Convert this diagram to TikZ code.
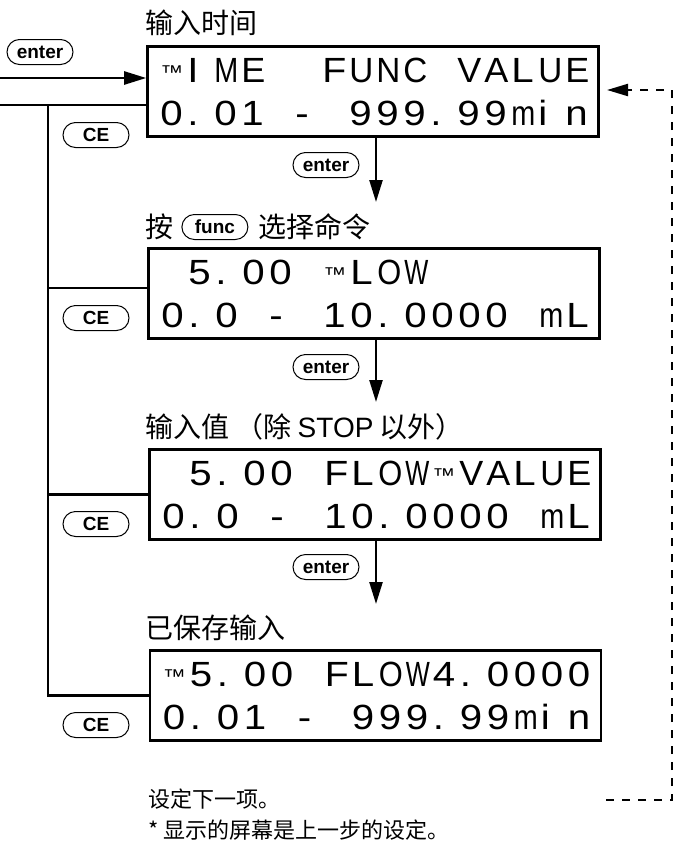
\documentclass[tikz,border=0pt]{standalone}
\usepackage{fontspec}
\usepackage{graphicx}
\setmainfont{Liberation Sans}
\newfontfamily\cjk{Noto Sans CJK SC}
\newfontfamily\lcdfont[FakeStretch=1.15]{Liberation Sans}
\usetikzlibrary{arrows.meta, positioning}

% one LCD cell per character, "_" is an empty cell
\newcommand\lcdcell[1]{\sbox0{#1}\ifdim\wd0>24pt\sbox0{\resizebox{24pt}{\ht0}{#1}}\fi\makebox[27pt][l]{\hspace{2pt}\usebox0}}
\newcommand\cur{\raisebox{3pt}{\fontsize{20}{20}\selectfont ™}}
\def\lcd#1{\lcdnext#1\relax}
\def\lcdnext#1{\ifx#1\relax\else\ifx#1_\lcdcell{}\else\lcdcell{#1}\fi\expandafter\lcdnext\fi}

\begin{document}
\begin{tikzpicture}[x=1pt, y=-1pt,
    screen/.style={draw, line width=2.6pt, minimum width=451pt, minimum height=90pt, inner sep=0pt},
    lcdtext/.style={anchor=base west, inner sep=0pt, font=\lcdfont\fontsize{35}{35}\selectfont},
    btn/.style={draw, line width=1pt, rounded corners=12.5pt, minimum width=66pt, minimum height=25pt, inner sep=0pt, font=\fontsize{19}{19}\selectfont\bfseries},
    title/.style={anchor=west, inner sep=0pt, font=\cjk\fontsize{28}{28}\selectfont},
    note/.style={anchor=west, inner sep=0pt, font=\cjk\fontsize{22}{22}\selectfont},
    wire/.style={line width=2.4pt},
    arr/.style={line width=2.4pt, -{Triangle[length=22pt, width=13pt]}},
    dasharr/.style={line width=2.2pt, dash pattern=on 8pt off 8pt, -{Triangle[length=21pt, width=12pt]}}]
    \useasboundingbox (0,0) rectangle (674,841);
    % screens
    \node[screen] (s1) at (373,91.5) {};
    \node[screen] (s2) at (374,293.5) {};
    \node[screen] (s3) at (375,494.5) {};
    \node[screen] (s4) at (375.5,695.5) {};
    \node[lcdtext] (s1a) at ([xshift=12pt,yshift=-37pt]s1.north west) {\lcd{\cur IME__FUNC_VALUE}};
    \node[lcdtext] (s1b) at ([xshift=12pt,yshift=-80pt]s1.north west) {\lcd{0.01_-_999.99min}};
    \node[lcdtext] (s2a) at ([xshift=12pt,yshift=-37pt]s2.north west) {\lcd{_5.00_\cur LOW}};
    \node[lcdtext] (s2b) at ([xshift=12pt,yshift=-80pt]s2.north west) {\lcd{0.0_-_10.0000_mL}};
    \node[lcdtext] (s3a) at ([xshift=12pt,yshift=-37pt]s3.north west) {\lcd{_5.00_FLOW\cur VALUE}};
    \node[lcdtext] (s3b) at ([xshift=12pt,yshift=-80pt]s3.north west) {\lcd{0.0_-_10.0000_mL}};
    \node[lcdtext] (s4a) at ([xshift=12pt,yshift=-37pt]s4.north west) {\lcd{\cur 5.00_FLOW4.0000}};
    \node[lcdtext] (s4b) at ([xshift=12pt,yshift=-80pt]s4.north west) {\lcd{0.01_-_999.99min}};
    % titles
    \node[title] (t1) at (145,23) {输入时间};
    \node[title] (t2) at (145,227) {按};
    \node[btn, right=8pt of t2] (kf) {func};
    \node[title, right=10pt of kf] (t2b) {选择命令};
    \node[title] (t3) at (145,427) {输入值 （除 {\rmfamily STOP} 以外）};
    \node[title] (t4) at (145,628) {已保存输入};
    \node[note] (n1) at (148,799) {设定下一项。};
    \node[note] (n2) at (148,830) {* 显示的屏幕是上一步的设定。};
    % keys
    \node[btn] (k0) at (40,52) {enter};
    \node[btn] (e1) at (326,165) {enter};
    \node[btn] (e2) at (326,367) {enter};
    \node[btn] (e3) at (326,567) {enter};
    \node[btn] (c1) at (96,135) {CE};
    \node[btn] (c2) at (96,318) {CE};
    \node[btn] (c3) at (96,524) {CE};
    \node[btn] (c4) at (96,725) {CE};
    % connectors
    \coordinate (in1) at (0,78);
    \coordinate (in2) at (0,105);
    \coordinate (j1) at (48,105);
    \coordinate (a1) at (376,202);
    \coordinate (a2) at (376,402);
    \coordinate (a3) at (376,604);
    \draw[arr] (in1) -- ([yshift=13.5pt]s1.west);
    \draw[wire] (in2) -- ([yshift=-13.5pt]s1.west);
    \draw[wire] (j1) |- (s4.west);
    \draw[wire] ([yshift=5.5pt]s2.west) -- ++(-99,0);
    \draw[wire] (s3.west) -- ++(-100,0);
    \draw[arr] (s1.south -| a1) -- (a1);
    \draw[arr] (s2.south -| a2) -- (a2);
    \draw[arr] (s3.south -| a3) -- (a3);
    % back to the first screen
    \coordinate (d0) at (606,800);
    \coordinate (d1) at (672,800);
    \coordinate (d2) at (607,90);
    \draw[dasharr] (d0) -- (d1) |- (d2);
\end{tikzpicture}
\end{document}
